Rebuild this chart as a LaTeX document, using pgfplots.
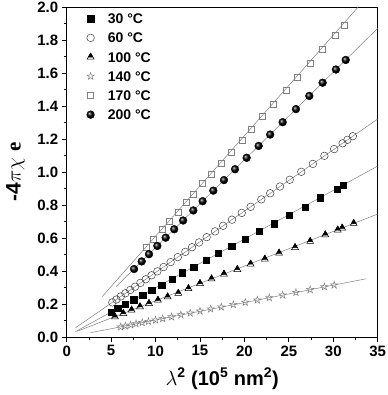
\documentclass[border=0pt]{standalone}
\usepackage{fontspec}
\setmainfont{Liberation Sans}
\newfontfamily\seriffont{Liberation Serif}
\usepackage{pgfplots}
\pgfplotsset{compat=1.18}
\pgfdeclareplotmark{halftri}{%
  \pgfpathmoveto{\pgfqpoint{0pt}{\pgfplotmarksize}}%
  \pgfpathlineto{\pgfqpoint{-.866\pgfplotmarksize}{-.5\pgfplotmarksize}}%
  \pgfpathlineto{\pgfqpoint{.866\pgfplotmarksize}{-.5\pgfplotmarksize}}%
  \pgfpathclose
  \pgfusepathqstroke
  \pgfpathmoveto{\pgfqpoint{0pt}{\pgfplotmarksize}}%
  \pgfpathlineto{\pgfqpoint{-.6\pgfplotmarksize}{-.04\pgfplotmarksize}}%
  \pgfpathlineto{\pgfqpoint{.6\pgfplotmarksize}{-.04\pgfplotmarksize}}%
  \pgfpathclose
  \pgfusepathqfillstroke
}
\pgfdeclareplotmark{ostar}{%
  \pgfpathmoveto{\pgfqpoint{0pt}{\pgfplotmarksize}}%
  \pgfpathlineto{\pgfqpoint{-.2245\pgfplotmarksize}{.309\pgfplotmarksize}}%
  \pgfpathlineto{\pgfqpoint{-.951\pgfplotmarksize}{.309\pgfplotmarksize}}%
  \pgfpathlineto{\pgfqpoint{-.363\pgfplotmarksize}{-.118\pgfplotmarksize}}%
  \pgfpathlineto{\pgfqpoint{-.588\pgfplotmarksize}{-.809\pgfplotmarksize}}%
  \pgfpathlineto{\pgfqpoint{0pt}{-.382\pgfplotmarksize}}%
  \pgfpathlineto{\pgfqpoint{.588\pgfplotmarksize}{-.809\pgfplotmarksize}}%
  \pgfpathlineto{\pgfqpoint{.363\pgfplotmarksize}{-.118\pgfplotmarksize}}%
  \pgfpathlineto{\pgfqpoint{.951\pgfplotmarksize}{.309\pgfplotmarksize}}%
  \pgfpathlineto{\pgfqpoint{.2245\pgfplotmarksize}{.309\pgfplotmarksize}}%
  \pgfpathclose
  \pgfusepathqstroke
}
\begin{document}
\begin{tikzpicture}
\useasboundingbox (-66.7pt,-58pt) rectangle (320.3pt,337pt);
\begin{axis}[
  scale only axis, width=311pt, height=330pt,
  xmin=0, xmax=35, ymin=0, ymax=2,
  xtick={0,5,10,15,20,25,30,35},
  ytick={0,0.2,0.4,0.6,0.8,1.0,1.2,1.4,1.6,1.8,2.0},
  minor x tick num=1, minor y tick num=1,
  tick align=outside, xtick pos=bottom, ytick pos=left,
  major tick length=5pt, minor tick length=3pt,
  every tick/.style={black, line width=0.8pt},
  axis line style={line width=0.9pt},
  /pgf/number format/assume math mode=true,
  ticklabel style={font=\fontsize{15}{15}\selectfont\bfseries},
  yticklabel style={/pgf/number format/fixed,/pgf/number format/fixed zerofill,/pgf/number format/precision=1},
  xlabel={$\lambda$\textsuperscript{2}\ (10\textsuperscript{5} nm\textsuperscript{2})},
  ylabel={-4$\pi\chi$\ {\seriffont e}},
  every axis x label/.style={at={(axis description cs:0.5,-0.1455)}, anchor=base, font=\fontsize{20}{20}\selectfont\bfseries},
  every axis y label/.style={at={(axis description cs:-0.165,0.5)}, rotate=90, anchor=center, font=\fontsize{21}{21}\selectfont\bfseries},
  legend cell align=left,
  legend image code/.code={\path (0cm,0cm) (0.9cm,0cm); \draw[#1] plot coordinates {(0.3cm,0cm)};},
  legend style={draw=none, fill=none, at={(axis cs:1.35,1.973)}, anchor=north west,
    font=\fontsize{14}{14}\selectfont\bfseries, row sep=9.2pt,
    nodes={inner sep=0pt, text height=10pt, text depth=0pt}},
]
% fit lines
\addplot[forget plot, gray, line width=0.5pt] coordinates {(1.0,0.033) (35,1.036)};
\addplot[forget plot, gray, line width=0.5pt] coordinates {(1.0,0.056) (35,1.321)};
\addplot[forget plot, gray, line width=0.5pt] coordinates {(1.2,0.035) (35,0.745)};
\addplot[forget plot, gray, line width=0.5pt] coordinates {(2.7,0.026) (33.7,0.353)};
\addplot[forget plot, gray, line width=0.5pt] coordinates {(4.0,0.245) (32.8,2.0)};
\addplot[forget plot, gray, line width=0.5pt] coordinates {(5.55,0.305) (35,1.871)};
% 30 C
\addplot[only marks, mark=square*, mark size=3.1pt, black] coordinates {
(5.0,0.150) (5.74,0.174) (6.56,0.198) (7.54,0.226) (8.55,0.254) (9.56,0.285)
(10.7,0.313) (11.85,0.350) (13.0,0.390) (14.3,0.424) (15.7,0.467) (17.06,0.507)
(18.56,0.550) (20.07,0.594) (21.64,0.640) (23.33,0.687) (25.0,0.737) (26.8,0.788)
(28.5,0.844) (30.45,0.897) (31.1,0.919)};
\addlegendentry{30 °C}
% 60 C
\addplot[only marks, mark=o, mark size=3.8pt, black!75, mark options={line width=0.5pt}] coordinates {
(5.13,0.210) (5.6,0.227) (6.1,0.246) (6.6,0.265) (7.15,0.285) (7.7,0.305) (8.3,0.328)
(8.9,0.350) (9.55,0.374) (10.2,0.398) (10.9,0.424) (11.7,0.454) (12.5,0.484)
(13.35,0.516) (14.1,0.544) (14.9,0.573) (15.75,0.605) (16.7,0.640) (17.6,0.674)
(18.6,0.711) (19.7,0.752) (20.7,0.789) (21.9,0.834) (22.9,0.871) (24.0,0.912)
(25.1,0.953) (26.4,1.001) (27.7,1.049) (29.0,1.098) (30.1,1.139) (31.05,1.174)
(31.6,1.195) (32.2,1.217)};
\addlegendentry{60 °C}
% 100 C
\addplot[only marks, mark=halftri, mark size=4pt, black, mark options={line width=0.5pt}] coordinates {
(5.43,0.122) (6.37,0.142) (7.3,0.163) (8.25,0.183) (9.26,0.203) (10.27,0.223)
(11.36,0.243) (12.56,0.265) (13.7,0.293) (15.0,0.324) (16.3,0.352) (17.7,0.381)
(19.2,0.409) (20.7,0.442) (22.3,0.472) (23.9,0.508) (25.7,0.542) (27.4,0.579)
(29.1,0.619) (30.5,0.648) (31.0,0.660) (32.3,0.688)};
\addlegendentry{100 °C}
% 140 C
\addplot[only marks, mark=ostar, mark size=3.8pt, black!50, mark options={line width=0.5pt}] coordinates {
(6.07,0.061) (6.6,0.067) (7.2,0.073) (7.8,0.080) (8.5,0.087) (9.2,0.094) (10.0,0.103)
(10.8,0.111) (11.8,0.122) (12.85,0.134) (13.9,0.145) (15.0,0.157) (16.2,0.170)
(17.4,0.182) (18.75,0.196) (20.1,0.210) (21.45,0.224) (22.8,0.238) (24.3,0.254)
(25.8,0.270) (27.4,0.287) (29.0,0.304) (30.1,0.315)};
\addlegendentry{140 °C}
% 170 C
\addplot[only marks, mark=square, mark size=3pt, black!50, mark options={line width=0.5pt}] coordinates {
(8.9,0.541) (9.75,0.593) (10.7,0.650) (11.55,0.702) (12.5,0.759) (13.4,0.814)
(14.25,0.865) (15.3,0.929) (16.3,0.989) (17.4,1.056) (18.5,1.122) (19.7,1.195)
(20.8,1.261) (22.05,1.337) (23.3,1.413) (24.7,1.497) (25.95,1.573) (27.4,1.661)
(28.8,1.745) (30.2,1.830) (31.2,1.891)};
\addlegendentry{170 °C}
% 200 C
\addplot[only marks, mark=ball, mark size=3.9pt, mark options={ball color=black}] coordinates {
(7.58,0.412) (8.44,0.458) (9.26,0.502) (10.2,0.552) (11.14,0.602) (12.1,0.653)
(13.1,0.706) (14.25,0.767) (15.3,0.823) (16.5,0.887) (17.7,0.951) (18.95,1.017)
(20.25,1.086) (21.6,1.158) (22.9,1.227) (24.3,1.302) (25.8,1.381) (27.3,1.461)
(28.8,1.541) (30.3,1.621) (31.4,1.679)};
\addlegendentry{200 °C}
\end{axis}
\end{tikzpicture}
\end{document}
